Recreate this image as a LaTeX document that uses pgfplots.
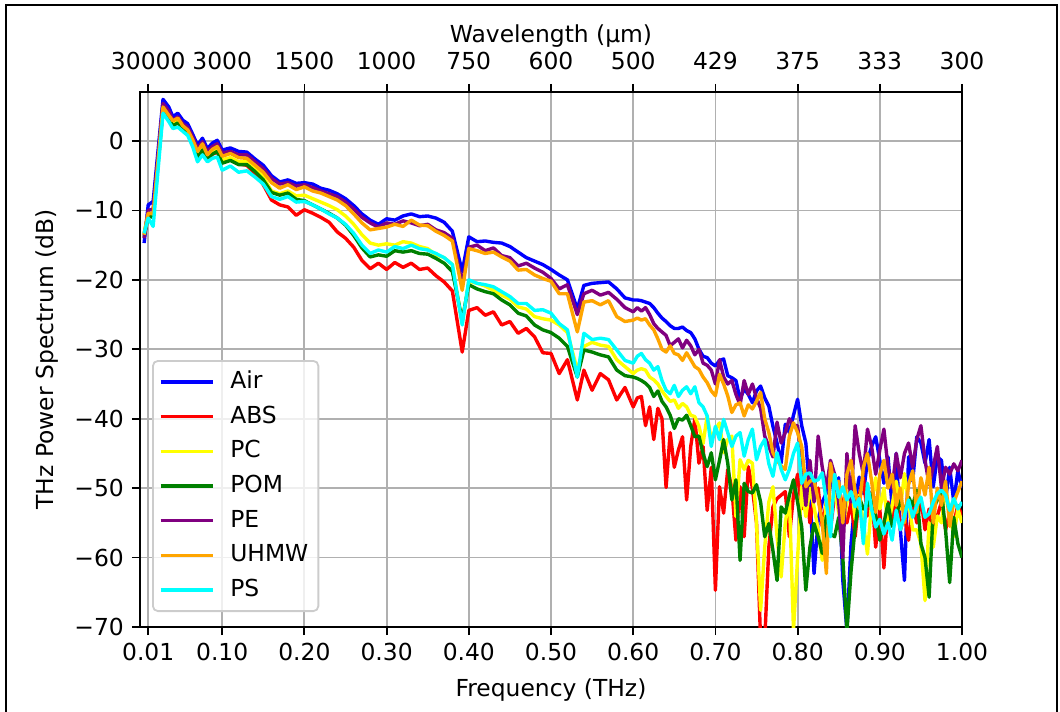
\documentclass[border=0pt]{standalone}
\usepackage{fontspec}
\setmainfont{DejaVu Sans}
\usepackage{pgfplots}
\pgfplotsset{compat=1.18}
\usepackage{pgfplotstable}
\definecolor{gridgray}{RGB}{176,176,176}
\definecolor{mplorange}{RGB}{255,165,0}
\definecolor{mplpurple}{RGB}{128,0,128}
\definecolor{mplgreen}{RGB}{0,128,0}
\definecolor{mplcyan}{RGB}{0,255,255}
\definecolor{mplyellow}{RGB}{255,255,0}
\definecolor{mplblue}{RGB}{0,0,255}
\definecolor{mplred}{RGB}{255,0,0}
\definecolor{legedge}{RGB}{204,204,204}

\pgfplotstableread{
f air abs pc pom pe uhmw ps
0.005 -14.7 -13.5 -13.3 -13.8 -14.0 -13.5 -13.3
0.010 -9.2 -10.5 -10.3 -10.8 -10.0 -10.4 -11.1
0.016 -8.7 -10.6 -10.8 -11.0 -9.8 -10.5 -12.3
0.028 6.0 5.2 4.8 4.5 5.4 4.9 4.0
0.035 4.9 3.9 3.5 3.2 4.3 3.7 2.8
0.040 3.5 2.8 2.5 2.2 3.0 2.9 1.8
0.046 4.0 3.0 2.8 2.6 3.5 3.3 2.0
0.052 3.0 2.1 2.0 1.8 2.5 2.2 1.4
0.058 2.5 1.5 1.4 1.2 2.0 1.6 0.8
0.064 1.0 -0.2 -0.1 -0.3 0.6 0.2 -0.8
0.070 -0.6 -2.0 -2.0 -2.4 -1.0 -1.5 -3.0
0.076 0.4 -1.2 -1.0 -1.3 -0.1 -0.4 -2.0
0.082 -1.1 -2.5 -2.3 -2.6 -1.5 -2.0 -3.0
0.088 -0.3 -1.9 -1.6 -1.9 -0.8 -1.2 -2.5
0.094 0.1 -1.6 -1.2 -1.5 -0.4 -0.8 -2.3
0.100 -1.3 -3.0 -2.7 -3.2 -1.7 -2.2 -4.2
0.11 -1.0 -2.6 -2.4 -2.8 -1.5 -1.8 -3.6
0.12 -1.5 -3.3 -3.0 -3.4 -2.0 -2.4 -4.5
0.13 -1.6 -3.5 -3.0 -3.4 -2.0 -2.5 -4.3
0.14 -2.6 -4.7 -4.0 -4.4 -3.0 -3.5 -5.2
0.15 -3.5 -6.3 -5.2 -5.6 -4.0 -4.5 -6.2
0.16 -5.0 -8.5 -7.2 -7.4 -5.4 -6.0 -8.0
0.17 -5.9 -9.2 -7.6 -7.8 -6.2 -6.8 -8.4
0.18 -5.6 -9.5 -7.2 -7.5 -6.0 -6.3 -8.0
0.19 -6.1 -10.7 -7.9 -8.4 -6.5 -7.0 -8.8
0.20 -6.0 -9.9 -7.8 -8.6 -6.3 -6.6 -8.7
0.21 -6.2 -10.4 -8.3 -9.2 -6.7 -7.2 -9.2
0.22 -6.8 -11.0 -8.8 -9.8 -7.2 -7.5 -9.8
0.23 -7.1 -11.7 -9.3 -10.4 -7.6 -8.0 -10.5
0.24 -7.6 -13.1 -9.9 -11.1 -8.0 -8.5 -11.1
0.25 -8.3 -14.0 -10.8 -12.1 -8.8 -9.3 -12.0
0.26 -9.3 -15.3 -12.0 -13.6 -9.8 -10.5 -13.3
0.27 -10.5 -17.2 -13.5 -15.4 -11.0 -11.8 -15.0
0.28 -11.4 -18.4 -14.7 -16.7 -11.8 -12.8 -16.2
0.29 -12.0 -17.6 -15.0 -16.4 -12.4 -12.6 -15.7
0.30 -11.2 -18.5 -14.8 -16.6 -11.8 -12.4 -16.0
0.31 -11.4 -17.5 -15.0 -15.8 -12.0 -12.0 -15.2
0.32 -10.8 -18.2 -14.5 -16.0 -11.5 -12.3 -15.5
0.33 -10.5 -17.6 -14.7 -15.8 -11.8 -11.4 -15.0
0.34 -10.9 -18.5 -15.2 -16.2 -12.2 -12.1 -15.5
0.35 -10.8 -18.3 -15.5 -16.3 -12.0 -12.2 -15.7
0.36 -11.1 -19.4 -16.4 -16.9 -12.8 -13.0 -16.2
0.37 -11.7 -20.3 -16.8 -17.6 -13.2 -13.6 -16.8
0.38 -13.0 -21.6 -17.8 -18.8 -14.0 -14.4 -17.8
0.392 -18.8 -30.4 -26.3 -25.8 -20.5 -21.5 -26.5
0.40 -13.8 -24.4 -20.2 -20.7 -15.3 -15.5 -20.0
0.41 -14.5 -24.0 -20.5 -21.3 -15.0 -15.8 -20.5
0.42 -14.4 -25.1 -20.9 -21.7 -15.8 -16.2 -20.7
0.43 -14.6 -24.6 -21.5 -22.0 -15.4 -16.0 -21.0
0.44 -14.7 -26.5 -22.2 -22.9 -16.5 -16.7 -21.7
0.45 -15.2 -26.0 -22.8 -23.6 -16.8 -17.3 -22.4
0.46 -16.0 -27.7 -23.9 -24.8 -18.0 -18.6 -23.4
0.47 -16.8 -27.0 -24.2 -25.2 -17.6 -18.5 -23.4
0.48 -17.3 -28.2 -25.3 -26.5 -18.3 -19.3 -24.4
0.49 -17.8 -30.5 -25.6 -27.2 -18.9 -19.8 -24.3
0.50 -18.5 -30.6 -25.8 -27.6 -19.8 -20.2 -24.8
0.51 -19.3 -33.5 -26.5 -28.4 -21.3 -22.0 -26.3
0.52 -20.0 -31.5 -27.6 -29.6 -20.7 -22.0 -27.2
0.532 -24.2 -37.3 -33.0 -34.0 -25.0 -27.5 -34.0
0.54 -20.8 -33.0 -29.6 -30.1 -22.0 -23.2 -27.7
0.55 -20.5 -35.9 -29.0 -30.4 -21.5 -23.0 -28.6
0.56 -20.4 -33.5 -29.4 -30.8 -22.2 -23.6 -28.4
0.57 -20.3 -34.4 -29.6 -31.1 -21.8 -23.0 -28.6
0.58 -21.3 -37.3 -31.5 -33.0 -22.8 -25.3 -30.1
0.59 -22.6 -35.5 -32.5 -33.8 -24.0 -26.0 -31.6
0.60 -22.9 -38.3 -33.5 -34.0 -24.6 -25.8 -32.0
0.605 -22.9 -37.0 -33.0 -34.2 -24.0 -25.5 -31.0
0.61 -23.0 -36.8 -32.8 -34.5 -24.5 -25.8 -30.6
0.615 -23.2 -41.0 -33.0 -34.9 -24.0 -25.6 -31.5
0.62 -23.4 -38.3 -34.0 -35.5 -25.0 -26.5 -32.0
0.625 -24.0 -43.0 -34.4 -36.8 -26.3 -27.2 -33.0
0.63 -24.8 -38.5 -35.0 -36.0 -27.0 -28.5 -32.5
0.635 -25.5 -40.0 -36.0 -37.5 -27.5 -30.0 -34.5
0.64 -26.0 -49.9 -36.8 -38.3 -28.0 -30.4 -35.9
0.645 -26.6 -42.0 -37.5 -39.5 -29.5 -29.5 -36.4
0.65 -27.0 -47.0 -37.3 -41.4 -29.0 -30.6 -35.2
0.655 -27.0 -44.5 -38.5 -40.0 -28.5 -30.8 -36.8
0.66 -26.8 -42.6 -37.8 -40.2 -29.8 -31.6 -35.9
0.665 -27.3 -51.7 -38.3 -39.5 -28.7 -30.5 -35.4
0.67 -27.6 -44.0 -39.5 -41.0 -29.5 -31.5 -36.4
0.675 -28.5 -40.0 -39.7 -42.6 -30.8 -32.5 -35.4
0.68 -30.0 -46.4 -41.1 -42.5 -30.0 -32.9 -37.7
0.685 -31.0 -44.0 -43.6 -45.0 -32.0 -34.0 -38.3
0.69 -31.2 -53.2 -39.6 -46.9 -32.3 -34.8 -39.6
0.695 -32.0 -47.0 -43.0 -44.9 -33.0 -36.0 -44.0
0.70 -32.4 -64.7 -41.5 -48.8 -35.0 -36.7 -41.1
0.705 -31.6 -49.8 -40.6 -46.0 -31.5 -33.6 -43.0
0.71 -31.4 -53.6 -44.9 -43.0 -34.0 -35.0 -40.1
0.715 -33.8 -47.3 -43.0 -46.4 -35.0 -36.7 -42.0
0.72 -34.1 -50.0 -42.5 -51.7 -34.5 -39.1 -44.0
0.725 -34.5 -57.5 -54.1 -48.8 -36.5 -38.0 -42.5
0.73 -37.2 -49.8 -45.9 -60.4 -38.0 -37.7 -42.0
0.735 -35.7 -57.0 -47.3 -49.3 -34.5 -39.6 -45.4
0.74 -36.5 -46.9 -46.0 -50.5 -36.5 -38.0 -43.0
0.745 -37.7 -50.0 -46.4 -50.7 -35.0 -38.6 -41.5
0.75 -36.0 -55.0 -55.0 -49.5 -37.0 -37.5 -45.9
0.755 -35.3 -72.0 -67.6 -52.0 -38.5 -36.2 -44.0
0.76 -37.0 -72.0 -58.5 -57.0 -42.5 -40.0 -43.0
0.765 -38.2 -58.5 -52.0 -55.1 -44.0 -42.0 -46.5
0.77 -41.1 -52.7 -49.8 -59.0 -45.5 -44.9 -48.3
0.775 -43.5 -51.5 -57.0 -63.3 -40.5 -46.0 -44.9
0.78 -46.4 -51.0 -62.8 -52.7 -43.5 -46.8 -47.3
0.785 -40.8 -50.5 -55.0 -53.6 -42.0 -47.3 -48.8
0.79 -42.0 -57.0 -51.2 -51.0 -40.0 -42.5 -47.3
0.795 -39.5 -51.0 -70.5 -48.8 -41.0 -40.6 -45.0
0.80 -37.2 -48.0 -60.0 -52.0 -41.0 -42.0 -43.5
0.805 -41.0 -53.0 -49.8 -55.6 -46.5 -44.0 -49.3
0.81 -43.5 -50.0 -54.1 -64.7 -52.5 -49.8 -48.0
0.815 -50.7 -55.0 -50.0 -58.5 -46.0 -49.0 -47.8
0.82 -62.3 -51.0 -52.7 -55.1 -52.0 -48.8 -49.0
0.825 -54.6 -50.0 -56.0 -57.0 -42.5 -51.7 -48.8
0.83 -52.0 -55.5 -60.4 -59.4 -47.0 -55.0 -47.8
0.835 -50.7 -52.0 -51.7 -54.0 -50.0 -62.3 -52.0
0.84 -47.0 -56.0 -54.1 -56.6 -46.0 -46.4 -57.0
0.845 -51.7 -51.0 -50.0 -57.0 -48.0 -50.0 -48.0
0.85 -48.5 -49.5 -53.5 -54.2 -52.0 -49.0 -51.3
0.855 -63.3 -53.0 -56.0 -60.0 -60.0 -55.0 -49.8
0.86 -70.5 -55.0 -52.0 -70.6 -45.0 -48.0 -51.7
0.865 -58.0 -52.0 -49.0 -62.0 -52.0 -46.0 -50.5
0.87 -51.7 -57.0 -54.5 -55.6 -41.0 -50.5 -52.7
0.875 -48.4 -51.0 -51.0 -51.3 -45.0 -53.0 -51.5
0.88 -50.8 -48.5 -55.0 -53.0 -48.0 -47.0 -58.0
0.885 -46.0 -54.0 -59.5 -52.5 -41.5 -45.0 -49.3
0.89 -44.0 -50.5 -52.0 -50.8 -44.0 -49.0 -53.0
0.895 -42.6 -58.5 -48.5 -54.0 -48.0 -53.5 -55.6
0.90 -46.0 -53.0 -53.0 -57.5 -44.5 -48.0 -54.5
0.905 -49.3 -61.5 -50.0 -55.0 -41.5 -46.0 -56.6
0.91 -45.5 -52.0 -55.5 -52.2 -47.0 -50.0 -55.0
0.915 -52.7 -55.0 -52.5 -55.5 -50.0 -48.0 -57.5
0.92 -45.0 -50.5 -49.0 -54.0 -45.0 -52.5 -53.2
0.925 -56.0 -56.0 -53.0 -51.7 -48.5 -50.0 -56.0
0.93 -63.3 -54.0 -47.9 -53.5 -45.0 -55.0 -54.0
0.935 -45.5 -57.5 -52.0 -51.3 -43.5 -49.5 -51.7
0.94 -49.0 -52.0 -56.0 -52.5 -47.0 -47.5 -54.2
0.945 -42.6 -55.0 -56.0 -50.3 -43.0 -53.5 -52.5
0.95 -43.5 -51.5 -58.0 -58.0 -41.0 -48.5 -51.3
0.955 -46.4 -56.0 -66.2 -60.0 -46.0 -51.0 -54.2
0.96 -43.0 -53.0 -55.0 -65.7 -49.5 -47.0 -53.7
0.965 -49.8 -57.0 -58.5 -53.0 -47.0 -55.0 -52.0
0.97 -45.5 -54.0 -54.0 -51.7 -44.0 -50.0 -50.8
0.975 -46.0 -52.0 -55.0 -50.5 -50.0 -52.5 -50.3
0.98 -51.7 -56.0 -50.0 -56.0 -47.0 -49.0 -51.0
0.985 -47.0 -53.5 -53.5 -63.6 -48.0 -55.5 -53.2
0.99 -52.0 -55.0 -57.0 -54.2 -46.5 -52.0 -51.5
0.995 -47.5 -52.5 -53.0 -58.0 -47.5 -50.5 -53.0
1.0 -50.0 -54.0 -55.0 -60.0 -46.0 -49.0 -52.0
}\spectra

\begin{document}
\fontsize{11.7}{14}\selectfont
\begin{tikzpicture}
\useasboundingbox (-70pt,-42.5pt) rectangle (460pt,313.5pt);
\draw[line width=1pt] (-67pt,-44pt) -- (-67pt,311pt) -- (458.5pt,311pt) -- (458.5pt,-44pt);
\begin{axis}[
  scale only axis, width=411pt, height=267.5pt,
  xmin=0, xmax=1, ymin=-70, ymax=7.06,
  xtick={0.01,0.1,0.2,0.3,0.4,0.5,0.6,0.7,0.8,0.9,1.0},
  xticklabels={0.01,0.10,0.20,0.30,0.40,0.50,0.60,0.70,0.80,0.90,1.00},
  ytick={-70,-60,-50,-40,-30,-20,-10,0},
  yticklabels={−70,−60,−50,−40,−30,−20,−10,0},
  xtick pos=left, ytick pos=left,
  tick align=outside, major tick length=4pt,
  every tick/.style={black, line width=0.9pt},
  axis line style={line width=0.9pt},
  grid=major, major grid style={gridgray, line width=0.9pt},
  xlabel={Frequency (THz)}, ylabel={THz Power Spectrum (dB)},
  xlabel style={at={(axis description cs:0.5,-0.117)}, anchor=center},
  ylabel style={at={(axis description cs:-0.1131,0.5)}, anchor=center},
  legend style={at={(axis description cs:0.0146,0.028)}, anchor=south west,
    draw=legedge, line width=0.9pt, rounded corners=2.5pt, fill=white, fill opacity=0.8, text opacity=1,
    inner sep=3pt, row sep=2.35pt,
    nodes={inner sep=2pt, text height=8.7pt, text depth=2.3pt},
    /tikz/every odd column/.append style={column sep=6pt}},
  legend cell align=left,
  legend image code/.code={\draw[#1, line width=1.7pt] (0pt,0pt) -- (26pt,0pt);},
  every axis plot/.append style={line width=1.7pt, line join=round},
]
\addplot[mplblue] table[x=f, y=air] {\spectra};
\addlegendentry{Air}
\addplot[mplred] table[x=f, y=abs] {\spectra};
\addlegendentry{ABS}
\addplot[mplyellow] table[x=f, y=pc] {\spectra};
\addlegendentry{PC}
\addplot[mplgreen] table[x=f, y=pom] {\spectra};
\addlegendentry{POM}
\addplot[mplpurple] table[x=f, y=pe] {\spectra};
\addlegendentry{PE}
\addplot[mplorange] table[x=f, y=uhmw] {\spectra};
\addlegendentry{UHMW}
\addplot[mplcyan] table[x=f, y=ps] {\spectra};
\addlegendentry{PS}
\end{axis}
\begin{axis}[
  scale only axis, width=411pt, height=267.5pt,
  xmin=0, xmax=1, ymin=-70, ymax=7.06,
  axis x line*=top, hide y axis,
  xtick={0.01,0.1,0.2,0.3,0.4,0.5,0.6,0.7,0.8,0.9,1.0},
  xticklabels={30000,3000,1500,1000,750,600,500,429,375,333,300},
  xticklabel style={yshift=3pt},
  tick align=outside, major tick length=4pt,
  every tick/.style={black, line width=0.9pt},
  axis line style={line width=0.9pt},
  xlabel={Wavelength (µm)},
  xlabel style={at={(axis description cs:0.5,1.104)}, anchor=center},
]
\addplot[draw=none, forget plot] coordinates {(0.5,-30)};
\end{axis}
\end{tikzpicture}
\end{document}
